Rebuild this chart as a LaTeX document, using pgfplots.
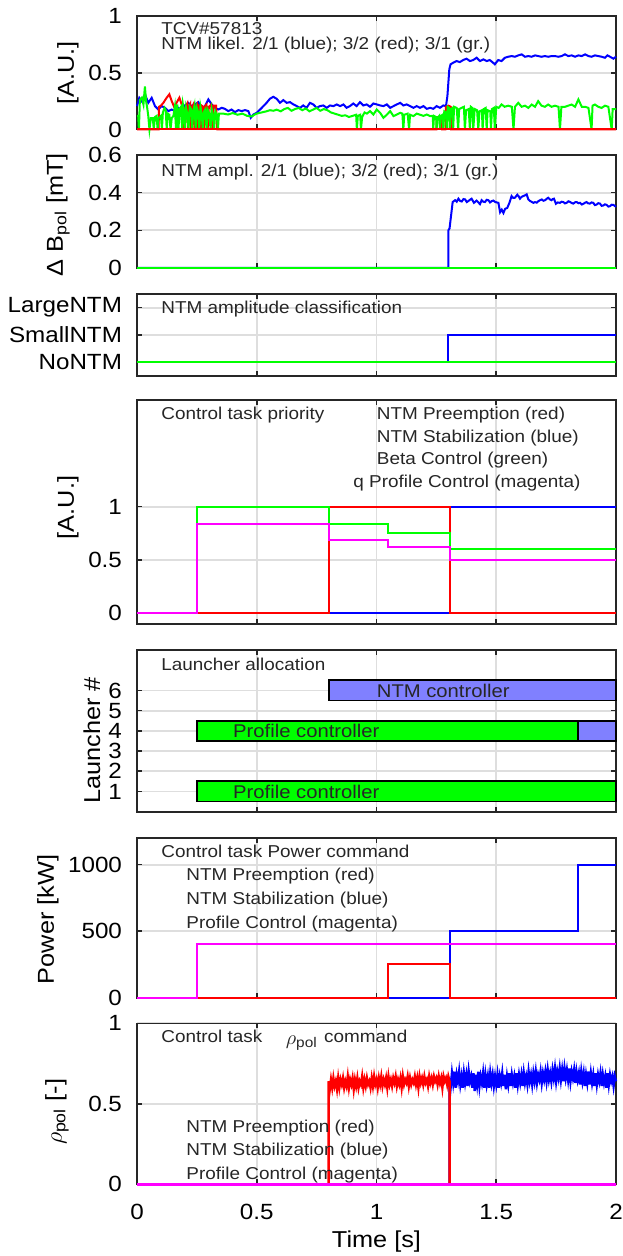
\documentclass[border=0pt]{standalone}
\usepackage{fontspec}
\setmainfont{Liberation Sans}[FakeStretch=1.1]
\usepackage{pgfplots}
\pgfplotsset{compat=1.18}

\definecolor{cblue}{RGB}{0,0,255}
\definecolor{cred}{RGB}{255,0,0}
\definecolor{cgreen}{RGB}{0,255,0}
\definecolor{cmag}{RGB}{255,0,255}
\definecolor{lblue}{RGB}{128,128,255}
\newcommand{\tf}{\fontsize{8.6}{9.5}\selectfont}

\pgfplotsset{
  panel/.style={
    scale only axis, width=239.5pt, xmin=0, xmax=2, anchor=north west,
    xtick={0,0.5,1,1.5,2}, xticklabels={},
    grid=major, grid style={black!13, line width=0.9pt},
    axis line style={black!85, line width=0.8pt},
    tick align=inside, tick pos=both, major tick length=2.5pt,
    tick style={black!85, line width=0.8pt},
    ticklabel style={font=\fontsize{11}{12}\selectfont},
    yticklabel style={xshift=-4pt},
    xticklabel style={yshift=-6.5pt},
    label style={font=\fontsize{11.5}{13}\selectfont},
    /pgf/number format/assume math mode=true,
    /pgf/number format/1000 sep={},
    scaled y ticks=false,
    clip=false,
    every axis plot/.append style={line width=1pt, mark=none},
  },
}
\tikzset{txt/.style={anchor=base west, inner sep=0pt, font=\tf, text=black!85}}

\begin{document}
\begin{tikzpicture}

% 1: NTM likelihood
\begin{axis}[panel, at={(68.5pt,-8pt)}, height=56.75pt, ymin=0, ymax=1, ytick={0,0.5,1},
  ylabel={[A.U.]}, ylabel style={at={(axis description cs:-0.144,0.5)}, anchor=center}]
\addplot[cblue, line width=1pt] coordinates {
(0,0.206)(0.0097,0.279)(0.0195,0.25)(0.0334,0.309)(0.0473,0.235)(0.0612,0.279)(0.0752,0.206)(0.089,0.176)(0.103,0.206)(0.117,0.191)
(0.131,0.162)(0.145,0.176)(0.159,0.162)(0.173,0.191)(0.186,0.171)(0.200,0.212)(0.214,0.235)(0.228,0.206)(0.242,0.221)(0.256,0.241)
(0.270,0.191)(0.284,0.206)(0.298,0.265)(0.312,0.221)(0.326,0.191)(0.340,0.176)(0.354,0.191)(0.367,0.182)(0.381,0.162)(0.395,0.176)
(0.409,0.153)(0.423,0.171)(0.437,0.162)(0.451,0.171)(0.465,0.162)(0.475,0.103)(0.486,0.132)(0.500,0.147)(0.521,0.191)(0.541,0.235)
(0.555,0.271)(0.569,0.288)(0.583,0.271)(0.597,0.235)(0.611,0.259)(0.625,0.235)(0.639,0.241)(0.653,0.221)(0.667,0.206)(0.681,0.191)
(0.694,0.212)(0.708,0.191)(0.722,0.235)(0.736,0.221)(0.750,0.191)(0.764,0.206)(0.778,0.212)(0.792,0.191)(0.806,0.212)(0.820,0.206)
(0.834,0.221)(0.848,0.206)(0.862,0.221)(0.875,0.191)(0.889,0.206)(0.903,0.229)(0.917,0.206)(0.931,0.241)(0.945,0.212)(0.959,0.221)
(0.973,0.200)(0.987,0.229)(1.001,0.221)(1.015,0.212)(1.029,0.206)(1.043,0.221)(1.057,0.191)(1.071,0.206)(1.085,0.221)(1.099,0.235)
(1.112,0.212)(1.126,0.221)(1.140,0.206)(1.154,0.191)(1.168,0.206)(1.182,0.191)(1.196,0.206)(1.210,0.182)(1.224,0.191)(1.237,0.182)
(1.251,0.206)(1.265,0.191)(1.279,0.212)(1.290,0.206)(1.296,0.294)(1.304,0.53)(1.309,0.574)(1.320,0.588)(1.334,0.603)(1.348,0.594)
(1.362,0.612)(1.376,0.624)(1.390,0.603)(1.404,0.612)(1.418,0.632)(1.432,0.603)(1.446,0.618)(1.460,0.603)(1.473,0.612)(1.487,0.588)
(1.494,0.574)(1.508,0.612)(1.522,0.603)(1.536,0.632)(1.550,0.641)(1.564,0.647)(1.578,0.641)(1.592,0.653)(1.606,0.662)(1.620,0.641)
(1.634,0.647)(1.648,0.641)(1.662,0.653)(1.675,0.647)(1.689,0.641)(1.703,0.647)(1.717,0.641)(1.731,0.647)(1.745,0.647)(1.759,0.641)
(1.773,0.647)(1.787,0.662)(1.801,0.647)(1.815,0.653)(1.829,0.641)(1.843,0.653)(1.857,0.647)(1.871,0.662)(1.885,0.647)(1.898,0.641)
(1.912,0.653)(1.926,0.647)(1.940,0.641)(1.954,0.632)(1.964,0.653)(1.975,0.641)(1.989,0.624)(2.0,0.641)};
\addplot[cred, line width=1pt] coordinates {
(0,0)(0.09,0)(0.092,0.2)(0.1,0.21)(0.11,0.235)(0.124,0.28)(0.135,0.31)(0.145,0.25)(0.155,0.2)(0.165,0.235)
(0.177,0.28)(0.185,0.23)(0.19,0.2)(0.193,0)(0.196,0.2)(0.2,0)(0.205,0.21)(0.21,0.23)(0.214,0)(0.218,0.2)
(0.222,0.22)(0.226,0)(0.23,0.2)(0.235,0.22)(0.24,0)(0.244,0.2)(0.25,0.22)(0.254,0)(0.258,0.21)(0.263,0.2)
(0.267,0)(0.27,0.21)(0.276,0.2)(0.28,0)(0.285,0.21)(0.29,0.22)(0.295,0)(0.3,0.2)(0.31,0.22)(0.315,0)
(0.32,0.21)(0.33,0.21)(0.335,0)(1.25,0)(1.252,0.11)(1.272,0.11)(1.274,0)(1.288,0)(1.29,0.2)(1.3,0.21)
(1.31,0.2)(1.312,0)(2,0)};
\addplot[cgreen, line width=1pt] coordinates {
(0,0.12)(0.005,0.12)(0.008,0)(0.012,0.26)(0.02,0.28)(0.027,0.22)(0.033,0.38)(0.038,0.25)(0.042,0.2)(0.047,0.12)
(0.052,0)(0.058,0.1)(0.066,0.1)(0.07,0)(0.075,0.11)(0.082,0.12)(0.086,0)(0.09,0.1)(0.1,0.12)(0.104,0)
(0.108,0.15)(0.115,0.19)(0.12,0.17)(0.124,0)(0.128,0.14)(0.135,0.13)(0.14,0)(0.145,0.1)(0.152,0.12)(0.158,0.2)
(0.163,0)(0.168,0.22)(0.173,0)(0.178,0.18)(0.184,0.2)(0.188,0)(0.192,0.22)(0.197,0.16)(0.2,0)(0.205,0.19)
(0.21,0.14)(0.215,0)(0.22,0.2)(0.226,0.18)(0.23,0)(0.235,0.16)(0.24,0.21)(0.245,0)(0.25,0.19)(0.256,0.15)
(0.26,0)(0.265,0.2)(0.27,0.14)(0.275,0)(0.28,0.16)(0.286,0.18)(0.29,0)(0.296,0.17)(0.302,0.14)(0.307,0)
(0.312,0.18)(0.318,0.12)(0.322,0)(0.327,0.16)(0.333,0.13)(0.338,0)(0.342,0.14)(0.36,0.14)(0.38,0.132)(0.40,0.145)
(0.42,0.13)(0.44,0.14)(0.46,0.12)(0.48,0.115)(0.49,0.13)(0.50,0.14)(0.52,0.15)(0.54,0.16)(0.555,0.17)(0.57,0.165)
(0.583,0.175)(0.60,0.16)(0.615,0.18)(0.63,0.19)(0.645,0.165)(0.66,0.18)(0.675,0.19)(0.69,0.17)(0.705,0.185)(0.72,0.16)
(0.735,0.175)(0.75,0.19)(0.765,0.165)(0.78,0.18)(0.795,0.17)(0.81,0.15)(0.825,0.14)(0.84,0.13)(0.855,0.12)(0.87,0.125)
(0.885,0.11)(0.9,0.12)(0.915,0.13)(0.918,0)(0.922,0.12)(0.932,0.13)(0.935,0)(0.94,0.11)(0.95,0.15)(0.96,0.14)
(0.973,0.162)(0.987,0.132)(1.001,0.176)(1.015,0.147)(1.029,0.103)(1.043,0.13)(1.057,0.162)(1.071,0.118)(1.085,0.132)(1.099,0.147)
(1.108,0.14)(1.112,0)(1.116,0.13)(1.13,0.14)(1.136,0)(1.14,0.13)(1.154,0.118)(1.168,0.14)(1.182,0.13)(1.196,0.12)
(1.21,0.132)(1.224,0.118)(1.235,0.12)(1.237,0)(1.24,0.12)(1.249,0.11)(1.251,0)(1.254,0.1)(1.262,0.12)(1.265,0)
(1.268,0.118)(1.276,0.13)(1.279,0)(1.283,0.16)(1.29,0.15)(1.293,0)(1.297,0.2)(1.303,0.19)(1.306,0)(1.31,0.18)
(1.317,0.19)(1.32,0)(1.324,0.2)(1.335,0.19)(1.341,0)(1.345,0.18)(1.355,0.19)(1.365,0.2)(1.369,0)(1.374,0.17)
(1.385,0.18)(1.39,0)(1.394,0.2)(1.4,0.19)(1.404,0)(1.41,0.18)(1.42,0.17)(1.425,0)(1.43,0.16)(1.44,0.17)
(1.443,0)(1.448,0.18)(1.456,0.19)(1.46,0)(1.464,0.17)(1.475,0.16)(1.478,0)(1.482,0.18)(1.49,0.19)(1.494,0)
(1.5,0.2)(1.51,0.19)(1.522,0.221)(1.535,0.2)(1.55,0.21)(1.565,0.2)(1.572,0)(1.578,0.2)(1.592,0.235)(1.606,0.2)
(1.62,0.21)(1.634,0.19)(1.648,0.22)(1.662,0.2)(1.675,0.25)(1.689,0.21)(1.703,0.2)(1.717,0.22)(1.731,0.2)(1.745,0.21)
(1.76,0.2)(1.766,0)(1.772,0.2)(1.787,0.2)(1.801,0.21)(1.815,0.22)(1.829,0.2)(1.843,0.265)(1.857,0.2)(1.871,0.2)
(1.885,0.19)(1.898,0)(1.902,0.21)(1.912,0.22)(1.926,0.2)(1.94,0.19)(1.954,0.21)(1.968,0.2)(1.982,0)(1.986,0.18)(2.0,0.18)};
\addplot[cred, line width=1pt] coordinates {(0,0)(2,0)};
\node[txt] at (axis cs:0.1,0.833) {TCV\#57813};
\node[txt] at (axis cs:0.1,0.709) {NTM likel. 2/1 (blue); 3/2 (red); 3/1 (gr.)};
\end{axis}

% 2: NTM amplitude
\begin{axis}[panel, at={(68.5pt,-77.5pt)}, height=56.5pt, ymin=0, ymax=0.6, ytick={0,0.2,0.4,0.6},
  ylabel={Δ B\textsubscript{pol} [mT]}, ylabel style={at={(axis description cs:-0.165,0.47)}, anchor=center}]
\addplot[cblue] coordinates {
(0,0)(1.30,0)(1.30,0.2)(1.305,0.21)(1.318,0.35)(1.328,0.360)(1.335,0.352)(1.342,0.368)(1.349,0.356)(1.356,0.353)
(1.363,0.366)(1.370,0.364)(1.377,0.350)(1.383,0.355)(1.390,0.362)(1.397,0.368)(1.407,0.346)(1.418,0.358)(1.425,0.349)(1.432,0.339)
(1.439,0.360)(1.446,0.352)(1.453,0.350)(1.460,0.362)(1.467,0.360)(1.474,0.348)(1.481,0.355)(1.488,0.358)(1.495,0.351)(1.502,0.348)
(1.509,0.346)(1.516,0.296)(1.523,0.310)(1.530,0.292)(1.537,0.314)(1.546,0.319)(1.555,0.346)(1.564,0.382)(1.571,0.372)(1.578,0.373)
(1.588,0.389)(1.594,0.380)(1.599,0.368)(1.606,0.378)(1.613,0.382)(1.620,0.386)(1.627,0.391)(1.634,0.364)(1.641,0.356)(1.648,0.351)
(1.655,0.346)(1.662,0.350)(1.669,0.347)(1.676,0.355)(1.683,0.360)(1.690,0.364)(1.697,0.357)(1.704,0.360)(1.711,0.368)(1.717,0.373)
(1.724,0.364)(1.731,0.360)(1.736,0.366)(1.741,0.368)(1.749,0.341)(1.757,0.348)(1.766,0.346)(1.773,0.352)(1.780,0.350)(1.787,0.343)
(1.794,0.346)(1.801,0.354)(1.808,0.351)(1.815,0.345)(1.822,0.342)(1.829,0.349)(1.836,0.350)(1.843,0.344)(1.850,0.346)(1.857,0.337)
(1.864,0.341)(1.871,0.347)(1.877,0.350)(1.884,0.343)(1.891,0.342)(1.898,0.348)(1.905,0.346)(1.912,0.334)(1.919,0.337)(1.926,0.344)
(1.933,0.342)(1.940,0.330)(1.947,0.332)(1.954,0.338)(1.961,0.335)(1.968,0.326)(1.975,0.328)(1.982,0.336)(1.989,0.335)(2.0,0.325)};
\addplot[cred, line width=1.2pt] coordinates {(0,0)(2,0)};
\addplot[cgreen, line width=1.2pt] coordinates {(0,0)(2,0)};
\node[txt] at (axis cs:0.1,0.488) {NTM ampl. 2/1 (blue); 3/2 (red); 3/1 (gr.)};
\end{axis}

% 3: classification
\begin{axis}[panel, at={(68.5pt,-147pt)}, height=40.85pt, ymin=-0.5, ymax=2.5, ytick={0,1,2},
  yticklabels={NoNTM,SmallNTM,LargeNTM}]
\addplot[cblue] coordinates {(0,0)(1.30,0)(1.30,1)(2,1)};
\addplot[cred] coordinates {(0,0)(2,0)};
\addplot[cgreen, line width=1.2pt] coordinates {(0,0)(2,0)};
\node[txt] at (axis cs:0.1,1.78) {NTM amplitude classification};
\end{axis}

% 4: control task priority
\begin{axis}[panel, at={(68.5pt,-200pt)}, height=112pt, ymin=-0.1, ymax=2, ytick={0,0.5,1},
  ylabel={[A.U.]}, ylabel style={at={(axis description cs:-0.144,0.52)}, anchor=center}]
\addplot[cblue] coordinates {(0,0)(1.305,0)(1.305,1)(2,1)};
\addplot[cred] coordinates {(0,0)(0.8,0)(0.8,1)(1.305,1)(1.305,0)(2,0)};
\addplot[cgreen] coordinates {(0,0)(0.25,0)(0.25,1)(0.8,1)(0.8,0.834)(1.05,0.834)(1.05,0.75)(1.305,0.75)(1.305,0.6)(2,0.6)};
\addplot[cmag] coordinates {(0,0)(0.25,0)(0.25,0.834)(0.8,0.834)(0.8,0.69)(1.05,0.69)(1.05,0.625)(1.305,0.625)(1.305,0.5)(2,0.5)};
\node[txt] at (axis cs:0.1,1.82) {Control task priority};
\node[txt] at (axis cs:1.0,1.82) {NTM Preemption (red)};
\node[txt] at (axis cs:1.0,1.605) {NTM Stabilization (blue)};
\node[txt] at (axis cs:1.0,1.393) {Beta Control (green)};
\node[txt] at (axis cs:0.902,1.184) {q Profile Control (magenta)};
\end{axis}

% 5: launcher allocation
\begin{axis}[panel, at={(68.5pt,-325pt)}, height=80.85pt, ymin=0, ymax=8, ytick={1,2,3,4,5,6},
  ylabel={Launcher \#}, ylabel style={at={(axis description cs:-0.094,0.44)}, anchor=center}]
\addplot[fill=lblue, draw=black, line width=0.9pt] coordinates {(0.8,5.5)(2,5.5)(2,6.5)(0.8,6.5)} -- cycle;
\addplot[fill=cgreen, draw=black, line width=0.9pt] coordinates {(0.25,3.5)(1.84,3.5)(1.84,4.5)(0.25,4.5)} -- cycle;
\addplot[fill=lblue, draw=black, line width=0.9pt] coordinates {(1.84,3.5)(2,3.5)(2,4.5)(1.84,4.5)} -- cycle;
\addplot[fill=cgreen, draw=black, line width=0.9pt] coordinates {(0.25,0.5)(2,0.5)(2,1.5)(0.25,1.5)} -- cycle;
\node[txt] at (axis cs:0.1,7.01) {Launcher allocation};
\node[txt, anchor=west, font=\fontsize{9.2}{10}\selectfont] at (axis cs:1.0,6) {NTM controller};
\node[txt, anchor=west, font=\fontsize{9.2}{10}\selectfont] at (axis cs:0.4,4) {Profile controller};
\node[txt, anchor=west, font=\fontsize{9.2}{10}\selectfont] at (axis cs:0.4,1) {Profile controller};
\end{axis}

% 6: power command
\begin{axis}[panel, at={(68.5pt,-419pt)}, height=79.85pt, ymin=0, ymax=1200, ytick={0,500,1000},
  ylabel={Power [kW]}, ylabel style={at={(axis description cs:-0.186,0.49)}, anchor=center}]
\addplot[cblue] coordinates {(0,0)(1.305,0)(1.305,500)(1.84,500)(1.84,1000)(2,1000)};
\addplot[cred] coordinates {(0,0)(1.05,0)(1.05,250)(1.305,250)(1.305,0)(2,0)};
\addplot[cmag] coordinates {(0,0)(0.25,0)(0.25,400)(2,400)};
\node[txt] at (axis cs:0.1,1052) {Control task Power command};
\node[txt] at (axis cs:0.205,877) {NTM Preemption (red)};
\node[txt] at (axis cs:0.205,702) {NTM Stabilization (blue)};
\node[txt] at (axis cs:0.205,520) {Profile Control (magenta)};
\end{axis}

% 7: rho command
\begin{axis}[panel, at={(68.5pt,-511.65pt)}, height=80.5pt, ymin=0, ymax=1, ytick={0,0.5,1},
  xticklabels={0,0.5,1,1.5,2},
  ylabel={$\rho$\textsubscript{pol} [-]}, ylabel style={at={(axis description cs:-0.167,0.45)}, anchor=center},
  xlabel={Time [s]}, xlabel style={at={(axis description cs:0.5,-0.355)}, anchor=center}]
\addplot[cblue, line width=1.2pt] coordinates {
(0,0)(1.305,0)(1.305,0.66)
(1.310,0.61)(1.315,0.69)(1.320,0.63)(1.325,0.70)(1.330,0.60)(1.335,0.68)(1.340,0.64)(1.345,0.70)(1.350,0.62)(1.355,0.67)
(1.360,0.60)(1.365,0.69)(1.370,0.63)(1.375,0.68)(1.380,0.61)(1.385,0.70)(1.390,0.64)(1.395,0.67)
(1.400,0.60)(1.405,0.69)(1.410,0.58)(1.415,0.68)(1.420,0.62)(1.425,0.70)(1.430,0.61)(1.435,0.67)(1.440,0.63)(1.445,0.69)
(1.450,0.60)(1.455,0.68)(1.460,0.62)(1.465,0.67)(1.470,0.60)(1.475,0.69)(1.480,0.63)(1.485,0.68)(1.490,0.61)(1.495,0.67)
(1.500,0.62)(1.505,0.68)(1.510,0.60)(1.515,0.67)(1.520,0.63)(1.525,0.69)(1.530,0.61)(1.535,0.68)(1.540,0.59)(1.545,0.67)
(1.550,0.62)(1.555,0.69)(1.560,0.61)(1.565,0.68)(1.570,0.63)(1.575,0.67)(1.580,0.60)(1.585,0.69)(1.590,0.62)(1.595,0.68)
(1.600,0.63)(1.605,0.68)(1.610,0.61)(1.615,0.69)(1.620,0.63)(1.625,0.67)(1.630,0.62)(1.635,0.70)(1.640,0.64)(1.645,0.68)
(1.650,0.62)(1.655,0.69)(1.660,0.64)(1.665,0.70)(1.670,0.63)(1.675,0.68)(1.680,0.65)(1.685,0.70)(1.690,0.63)(1.695,0.69)
(1.700,0.65)(1.705,0.70)(1.710,0.64)(1.715,0.71)(1.720,0.65)(1.725,0.69)(1.730,0.64)(1.735,0.71)(1.740,0.66)(1.745,0.72)
(1.750,0.64)(1.755,0.70)(1.760,0.66)(1.765,0.72)(1.770,0.65)(1.775,0.71)(1.780,0.64)(1.785,0.72)(1.790,0.66)(1.795,0.71)
(1.800,0.65)(1.805,0.72)(1.810,0.64)(1.815,0.70)(1.820,0.66)(1.825,0.71)(1.830,0.63)(1.835,0.70)(1.840,0.65)(1.845,0.69)
(1.850,0.62)(1.855,0.70)(1.860,0.64)(1.865,0.69)(1.870,0.61)(1.875,0.68)(1.880,0.63)(1.885,0.70)(1.890,0.62)(1.895,0.69)
(1.900,0.63)(1.905,0.68)(1.910,0.61)(1.915,0.69)(1.920,0.62)(1.925,0.68)(1.930,0.64)(1.935,0.69)(1.940,0.61)(1.945,0.68)
(1.950,0.63)(1.955,0.67)(1.960,0.60)(1.965,0.69)(1.970,0.62)(1.975,0.68)(1.980,0.64)(1.985,0.67)(1.990,0.61)(1.995,0.67)(2.000,0.64)};
\addplot[cred, line width=1.2pt] coordinates {
(0,0)(0.8,0)(0.8,0.64)
(0.805,0.59)(0.810,0.65)(0.815,0.60)(0.820,0.66)(0.825,0.61)(0.830,0.64)(0.835,0.59)(0.840,0.66)(0.845,0.60)(0.850,0.65)
(0.855,0.62)(0.860,0.66)(0.865,0.60)(0.870,0.64)(0.875,0.61)(0.880,0.67)(0.885,0.60)(0.890,0.65)(0.895,0.62)(0.900,0.66)
(0.905,0.59)(0.910,0.65)(0.915,0.61)(0.920,0.66)(0.925,0.60)(0.930,0.64)(0.935,0.62)(0.940,0.67)(0.945,0.60)(0.950,0.65)
(0.955,0.61)(0.960,0.66)(0.965,0.62)(0.970,0.64)(0.975,0.60)(0.980,0.66)(0.985,0.61)(0.990,0.67)(0.995,0.62)(1.000,0.65)
(1.005,0.60)(1.010,0.66)(1.015,0.62)(1.020,0.67)(1.025,0.61)(1.030,0.65)(1.035,0.62)(1.040,0.66)(1.045,0.60)(1.050,0.67)
(1.055,0.62)(1.060,0.65)(1.065,0.61)(1.070,0.66)(1.075,0.63)(1.080,0.67)(1.085,0.61)(1.090,0.65)(1.095,0.62)(1.100,0.66)
(1.105,0.60)(1.110,0.67)(1.115,0.62)(1.120,0.65)(1.125,0.63)(1.130,0.67)(1.135,0.61)(1.140,0.66)(1.145,0.62)(1.150,0.65)
(1.155,0.63)(1.160,0.67)(1.165,0.62)(1.170,0.66)(1.175,0.60)(1.180,0.67)(1.185,0.63)(1.190,0.66)(1.195,0.62)(1.200,0.67)
(1.205,0.63)(1.210,0.65)(1.215,0.61)(1.220,0.67)(1.225,0.63)(1.230,0.66)(1.235,0.62)(1.240,0.67)(1.245,0.64)(1.250,0.66)
(1.255,0.62)(1.260,0.67)(1.265,0.63)(1.270,0.66)(1.275,0.60)(1.280,0.67)(1.285,0.64)(1.290,0.66)(1.295,0.62)(1.300,0.67)
(1.305,0.64)(1.305,0)(2,0)};
\addplot[cmag, line width=1.5pt] coordinates {(0,0)(2,0)};
\node[txt] at (axis cs:0.1,0.88) {Control task};
\node[txt, font=\fontsize{10}{11}\selectfont] at (axis cs:0.62,0.87) {$\rho$\textsubscript{pol}};
\node[txt] at (axis cs:0.78,0.88) {command};
\node[txt] at (axis cs:0.205,0.321) {NTM Preemption (red)};
\node[txt] at (axis cs:0.205,0.182) {NTM Stabilization (blue)};
\node[txt] at (axis cs:0.205,0.027) {Profile Control (magenta)};
\end{axis}

\pgfresetboundingbox
\path[use as bounding box] (0,0) rectangle (311pt,-628pt);
\end{tikzpicture}
\end{document}
